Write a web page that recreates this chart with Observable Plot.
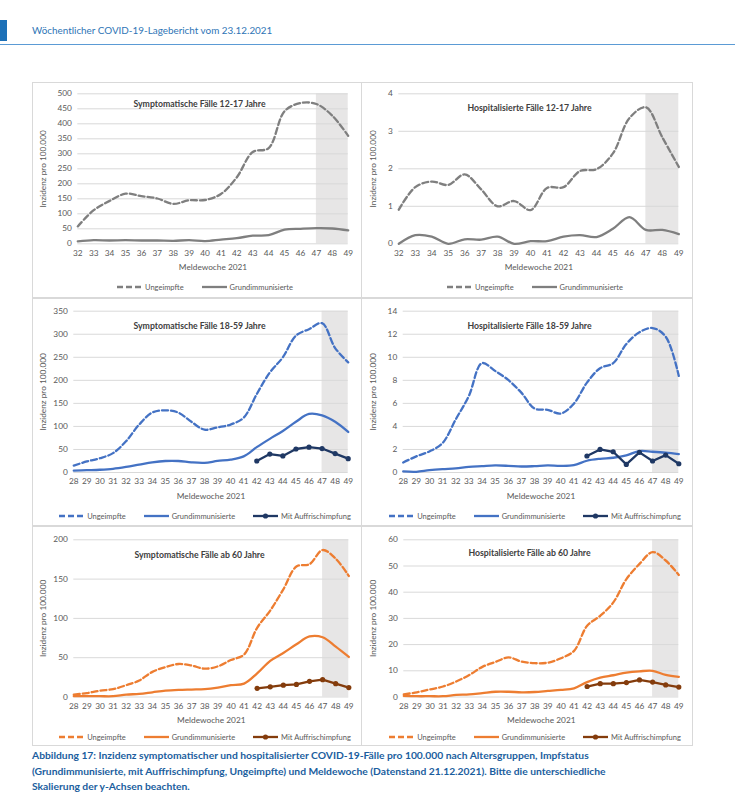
<!DOCTYPE html>
<html><head><meta charset="utf-8">
<script src="https://cdn.jsdelivr.net/npm/d3@7"></script>
<script src="https://cdn.jsdelivr.net/npm/@observablehq/plot@0.6"></script>
<style>
body{margin:0;background:#fff;font-family:Lato,"Open Sans",sans-serif;}
#page{position:relative;width:735px;height:800px;overflow:hidden;background:#fff;}
.panel{position:absolute;box-sizing:border-box;border:1px solid #d9d9d9;background:#fff;}
.panel svg{position:absolute;left:0;top:0;}
.legend{position:absolute;left:0;right:0;display:flex;justify-content:center;align-items:center;gap:18px;font-size:7.5px;color:#595959;padding-left:16px;height:10px;}
.legend .item{display:flex;align-items:center;gap:3px;white-space:nowrap;}
#hdrbar{position:absolute;left:0;top:20px;width:7px;height:21px;background:#1d70b7;}
#hdr{position:absolute;left:32px;top:24px;font-size:9.9px;color:#2e75b6;white-space:nowrap;}
#rule{position:absolute;left:0;top:44px;width:735px;height:1px;background:#5b9bd5;}
#caption{position:absolute;left:32px;top:748px;font-size:10.3px;font-weight:bold;color:#1b5e9e;line-height:15.5px;white-space:nowrap;}
</style></head>
<body><div id="page">
<div id="hdrbar"></div>
<div id="hdr">Wöchentlicher COVID-19-Lagebericht vom 23.12.2021</div>
<div id="rule"></div>
<div id="caption">Abbildung 17: Inzidenz symptomatischer und hospitalisierter COVID-19-Fälle pro 100.000 nach Altersgruppen, Impfstatus<br>(Grundimmunisierte, mit Auffrischimpfung, Ungeimpfte) und Meldewoche (Datenstand 21.12.2021). Bitte die unterschiedliche<br>Skalierung der y-Achsen beachten.</div>
</div>
<script>
// ---- Data ----
const weeks1217 = [32,33,34,35,36,37,38,39,40,41,42,43,44,45,46,47,48,49];
const weeksAdult = [28,29,30,31,32,33,34,35,36,37,38,39,40,41,42,43,44,45,46,47,48,49];
const weeksBooster = [42,43,44,45,46,47,48,49];
const shadedWeeks = [47,49];

const seriesNames = ["Ungeimpfte","Grundimmunisierte","Mit Auffrischimpfung"];

const symp1217Ungeimpft = [58,112,143,167,159,151,133,145,146,166,222,306,319,442,469,466,427,360];
const symp1217Grund = [8,12,11,12,11,11,10,12,9,14,19,27,29,47,50,52,51,45];
const hosp1217Ungeimpft = [0.91,1.51,1.66,1.57,1.85,1.45,1.0,1.14,0.9,1.49,1.51,1.94,1.99,2.41,3.35,3.64,2.84,2.05];
const hosp1217Grund = [0,0.23,0.19,0,0.12,0.11,0.19,0,0.07,0.07,0.19,0.23,0.18,0.4,0.71,0.37,0.37,0.26];

const symp1859Ungeimpft = [15,24,31,42,68,104,130,135,130,110,93,98,104,119,170,217,250,297,311,324,270,239];
const symp1859Grund = [4,5,6,8,12,17,22,25,25,22,21,25,28,35,55,73,90,110,127,124,110,88];
const symp1859Booster = [25,40,36,51,55,52,41,30];
const hosp1859Ungeimpft = [0.87,1.4,1.83,2.56,4.6,6.64,9.49,8.82,8.03,6.93,5.56,5.44,5.12,5.97,7.8,9.05,9.49,11.15,12.17,12.54,11.79,8.38];
const hosp1859Grund = [0.09,0.06,0.2,0.29,0.35,0.49,0.55,0.61,0.58,0.52,0.55,0.61,0.58,0.64,1.02,1.19,1.28,1.48,1.86,1.8,1.72,1.6];
const hosp1859Booster = [1.43,2.0,1.8,0.7,1.75,1.0,1.51,0.76];

const symp60Ungeimpft = [3,5,8,10,15,21,32,38,42,40,36,39,47,54,88,110,137,166,169,187,176,154];
const symp60Grund = [1,1,1,1,3,4,6,8,9,9.5,10,12,15,17,30,46,56,67,77,76,64,51];
const symp60Booster = [11,13,15,16,20,22,17,12];
const hosp60Ungeimpft = [1.0,1.8,2.9,4.0,5.9,8.4,11.5,13.4,15.1,13.5,12.9,13.1,14.8,17.6,27.2,31,36.1,45,50.8,55.3,52.1,46.6];
const hosp60Grund = [0.4,0.3,0.3,0.3,0.8,1.0,1.5,2.0,2.0,1.8,1.9,2.3,2.7,3.3,5.7,7.4,8.3,9.3,9.8,10.0,8.4,7.7];
const hosp60Booster = [4.0,5.1,5.1,5.5,6.5,5.7,4.6,3.8];

const ticksSymp1217 = [0,50,100,150,200,250,300,350,400,450,500];
const ticksHosp1217 = [0,1,2,3,4];
const ticksSymp1859 = [0,50,100,150,200,250,300,350];
const ticksHosp1859 = [0,2,4,6,8,10,12,14];
const ticksSymp60 = [0,50,100,150,200];
const ticksHosp60 = [0,10,20,30,40,50,60];

const titles = ["Symptomatische Fälle 12-17 Jahre","Hospitalisierte Fälle 12-17 Jahre",
  "Symptomatische Fälle 18-59 Jahre","Hospitalisierte Fälle 18-59 Jahre",
  "Symptomatische Fälle ab 60 Jahre","Hospitalisierte Fälle ab 60 Jahre"];

const paletteGray = ["#7f7f7f","#7f7f7f"];
const paletteBlue = ["#4472c4","#4472c4","#1f3864"];
const paletteOrange = ["#ed7d31","#ed7d31","#843c0c"];

// ---- Layout ----
const rows = [{top:82,h:216,mt:11.3,ph:149,leg:205,tdy:[7.5,11]},
              {top:298,h:228,mt:12.7,ph:160.3,leg:218,tdy:[12,12]},
              {top:526,h:220,mt:13.3,ph:156.2,leg:211,tdy:[12.4,10]}];
const cols = [{left:32,w:330,ml:[45.3,41.3,41.3],mr:[14.3,14.3,13.7],tx:167,yl:11},
              {left:361,w:332,ml:[37.3,41.7,42.3],mr:[14.7,14.7,14.7],tx:168,yl:12}];

const panels = [
  {weeks:weeks1217, ticks:ticksSymp1217, u:symp1217Ungeimpft, g:symp1217Grund, b:null, pal:paletteGray},
  {weeks:weeks1217, ticks:ticksHosp1217, u:hosp1217Ungeimpft, g:hosp1217Grund, b:null, pal:paletteGray},
  {weeks:weeksAdult, ticks:ticksSymp1859, u:symp1859Ungeimpft, g:symp1859Grund, b:symp1859Booster, pal:paletteBlue},
  {weeks:weeksAdult, ticks:ticksHosp1859, u:hosp1859Ungeimpft, g:hosp1859Grund, b:hosp1859Booster, pal:paletteBlue},
  {weeks:weeksAdult, ticks:ticksSymp60, u:symp60Ungeimpft, g:symp60Grund, b:symp60Booster, pal:paletteOrange},
  {weeks:weeksAdult, ticks:ticksHosp60, u:hosp60Ungeimpft, g:hosp60Grund, b:hosp60Booster, pal:paletteOrange}
];

const page = document.getElementById("page");
const DASH = "6,3";

function swatch(color, dashed, marker){
  const ns="http://www.w3.org/2000/svg";
  const s=document.createElementNS(ns,"svg");
  s.setAttribute("width","25");s.setAttribute("height","8");
  s.style.position="static";
  const l=document.createElementNS(ns,"line");
  l.setAttribute("x1","0");l.setAttribute("x2","25");l.setAttribute("y1","4");l.setAttribute("y2","4");
  l.setAttribute("stroke",color);l.setAttribute("stroke-width","2.3");
  if(dashed) l.setAttribute("stroke-dasharray",DASH);
  s.appendChild(l);
  if(marker){const c=document.createElementNS(ns,"circle");c.setAttribute("cx","12.5");c.setAttribute("cy","4");c.setAttribute("r","2.6");c.setAttribute("fill",color);s.appendChild(c);}
  return s;
}

panels.forEach((p,i)=>{
  const r=rows[Math.floor(i/2)], c=cols[i%2], ri=Math.floor(i/2);
  const div=document.createElement("div");
  div.className="panel";
  div.style.left=c.left+"px";div.style.top=r.top+"px";div.style.width=c.w+"px";div.style.height=r.h+"px";
  page.appendChild(div);
  const ml=c.ml[ri], mr=c.mr[ri];
  const yMax=p.ticks[p.ticks.length-1];
  const uData=p.weeks.map((w,k)=>({week:w,value:p.u[k]}));
  const gData=p.weeks.map((w,k)=>({week:w,value:p.g[k]}));
  const bData=p.b?weeksBooster.map((w,k)=>({week:w,value:p.b[k]})):[];
  const plotCenter=ml+(c.w-ml-mr)/2;
  const marks=[
    Plot.rect([{x1:shadedWeeks[0],x2:shadedWeeks[1],y1:0,y2:yMax}],{x1:"x1",x2:"x2",y1:"y1",y2:"y2",fill:"#e7e6e6"}),
    Plot.gridY(p.ticks,{stroke:"#d9d9d9",strokeOpacity:1,strokeWidth:1}),
    Plot.axisY(p.ticks,{tickSize:0,tickPadding:6,label:null,fontSize:8.3,color:"#595959"}),
    Plot.axisX(p.weeks,{tickSize:0,tickPadding:6,label:null,tickFormat:d=>String(d),fontSize:8.3,color:"#595959"}),
    Plot.line(uData,{x:"week",y:"value",stroke:p.pal[0],strokeWidth:2.3,strokeDasharray:DASH,curve:"catmull-rom"}),
    Plot.line(gData,{x:"week",y:"value",stroke:p.pal[1],strokeWidth:2.3,curve:"catmull-rom"})
  ];
  if(p.b){
    marks.push(Plot.line(bData,{x:"week",y:"value",stroke:p.pal[2],strokeWidth:2.3}));
    marks.push(Plot.dot(bData,{x:"week",y:"value",fill:p.pal[2],r:2.6}));
  }
  marks.push(Plot.text([titles[i]],{frameAnchor:"top",dy:r.tdy[i%2],dx:c.tx-plotCenter,fontWeight:"bold",fontSize:8.7,fill:"#404040"}));
  marks.push(Plot.text(["Inzidenz pro 100.000"],{frameAnchor:"left",textAnchor:"middle",rotate:-90,dx:c.yl-ml,fontSize:8.3,fill:"#595959"}));
  marks.push(Plot.text(["Meldewoche 2021"],{frameAnchor:"bottom",dy:26,fontSize:8.3,fill:"#595959"}));
  const chart=Plot.plot({
    width:c.w-2, height:r.mt+r.ph+36,
    marginLeft:ml-1, marginRight:mr-1, marginTop:r.mt-1, marginBottom:36,
    x:{type:"linear",domain:[p.weeks[0],p.weeks[p.weeks.length-1]]},
    y:{domain:[0,yMax]},
    style:{fontFamily:"Lato, 'Open Sans', sans-serif",fontSize:"8px",color:"#595959",background:"transparent",overflow:"visible"},
    marks
  });
  div.appendChild(chart);
  const leg=document.createElement("div");
  leg.className="legend";
  leg.style.top=(r.leg-5-1)+"px";
  const n=p.b?3:2;
  for(let k=0;k<n;k++){
    const it=document.createElement("div");it.className="item";
    it.appendChild(swatch(p.pal[k],k===0,k===2));
    const t=document.createElement("span");t.textContent=seriesNames[k];
    it.appendChild(t);leg.appendChild(it);
  }
  div.appendChild(leg);
});
</script>
</body></html>
